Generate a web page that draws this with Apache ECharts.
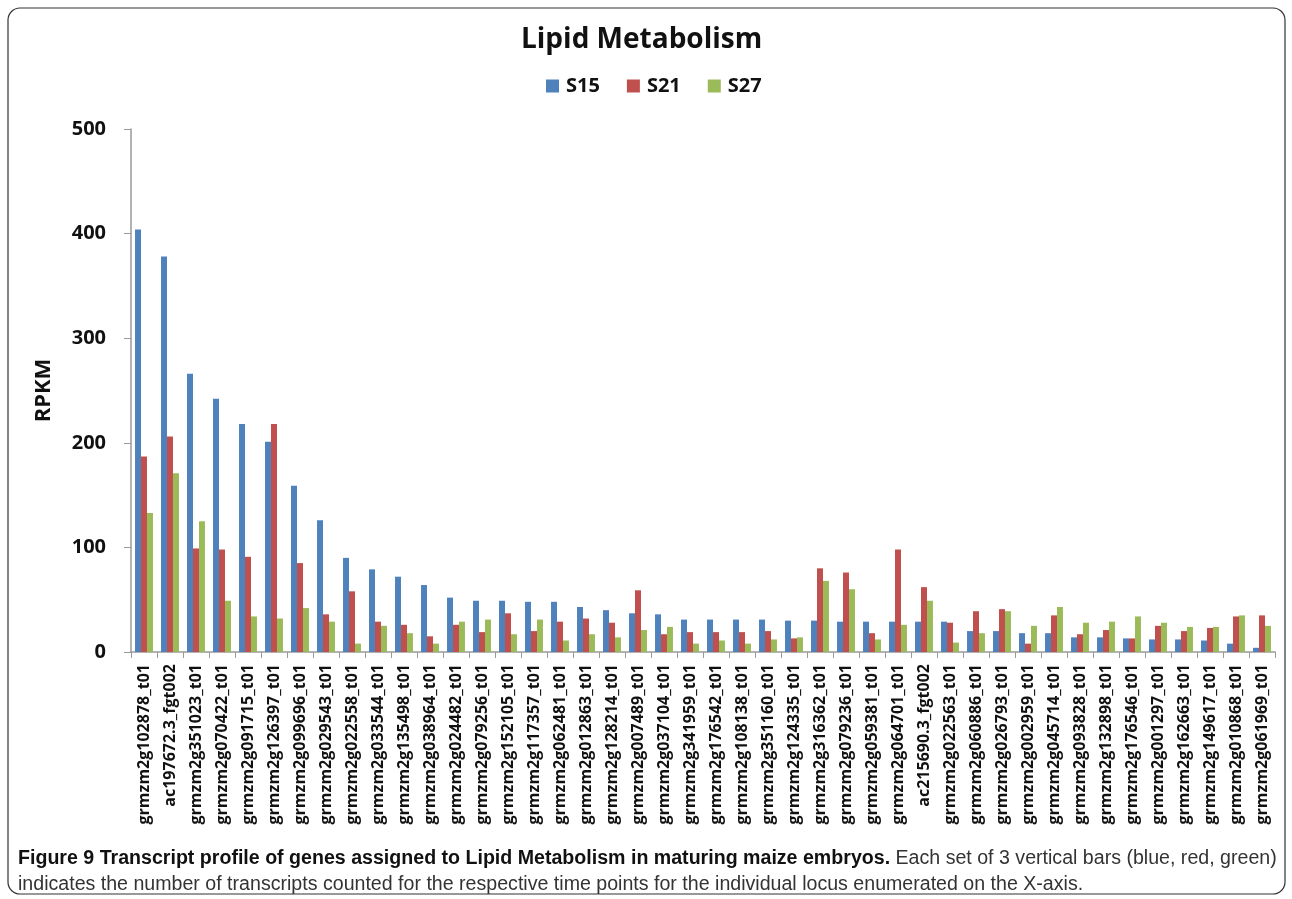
<!DOCTYPE html>
<html>
<head>
<meta charset="utf-8">
<script src="https://cdn.jsdelivr.net/npm/echarts@6/dist/echarts.min.js"></script>
<style>
  html, body { margin: 0; padding: 0; background: #fff; }
  #main { width: 1292px; height: 899px; }
</style>
</head>
<body>
<div id="main"></div>
<script>
// gene loci on the x axis
var genes = [
  'grmzm2g102878_t01', 'ac197672.3_fgt002', 'grmzm2g351023_t01', 'grmzm2g070422_t01',
  'grmzm2g091715_t01', 'grmzm2g126397_t01', 'grmzm2g099696_t01', 'grmzm2g029543_t01',
  'grmzm2g022558_t01', 'grmzm2g033544_t01', 'grmzm2g135498_t01', 'grmzm2g038964_t01',
  'grmzm2g024482_t01', 'grmzm2g079256_t01', 'grmzm2g152105_t01', 'grmzm2g117357_t01',
  'grmzm2g062481_t01', 'grmzm2g012863_t01', 'grmzm2g128214_t01', 'grmzm2g007489_t01',
  'grmzm2g037104_t01', 'grmzm2g341959_t01', 'grmzm2g176542_t01', 'grmzm2g108138_t01',
  'grmzm2g351160_t01', 'grmzm2g124335_t01', 'grmzm2g316362_t01', 'grmzm2g079236_t01',
  'grmzm2g059381_t01', 'grmzm2g064701_t01', 'ac215690.3_fgt002', 'grmzm2g022563_t01',
  'grmzm2g060886_t01', 'grmzm2g026793_t01', 'grmzm2g002959_t01', 'grmzm2g045714_t01',
  'grmzm2g093828_t01', 'grmzm2g132898_t01', 'grmzm2g176546_t01', 'grmzm2g001297_t01',
  'grmzm2g162663_t01', 'grmzm2g149617_t01', 'grmzm2g010868_t01', 'grmzm2g061969_t01'
];

// RPKM per time point
var s15 = [404, 378, 266, 242, 218, 201, 159, 126, 90, 79, 72, 64, 52, 49, 49, 48,
           48, 43, 40, 37, 36, 31, 31, 31, 31, 30, 30, 29, 29, 29, 29, 29,
           20, 20, 18, 18, 14, 14, 13, 12, 12, 11, 8, 4];
var s21 = [187, 206, 99, 98, 91, 218, 85, 36, 58, 29, 26, 15, 26, 19, 37, 20,
           29, 32, 28, 59, 17, 19, 19, 19, 20, 13, 80, 76, 18, 98, 62, 28,
           39, 41, 8, 35, 17, 21, 13, 25, 20, 23, 34, 35];
var s27 = [133, 171, 125, 49, 34, 32, 42, 29, 8, 25, 18, 8, 29, 31, 17, 31,
           11, 17, 14, 21, 24, 8, 11, 8, 12, 14, 68, 60, 12, 26, 49, 9,
           18, 39, 25, 43, 28, 29, 34, 28, 24, 24, 35, 25];

var yTicks = [0, 100, 200, 300, 400, 500];

var chart = echarts.init(document.getElementById('main'), null, {renderer: 'canvas'});

var fontMain = '"Open Sans", "Liberation Sans", sans-serif';
var fontCap = '"Liberation Sans", sans-serif';

chart.setOption({
    animation: false,
    color: ['#4F81BD', '#C0504D', '#9BBB59'],
    title: {
        text: 'Lipid Metabolism',
        left: 516,
        top: 21,
        textStyle: { fontFamily: fontMain, fontSize: 28, fontWeight: 'bold', color: '#111' }
    },
    legend: {
        top: 71,
        left: 541,
        itemWidth: 13,
        itemHeight: 13,
        itemGap: 27,
        icon: 'rect',
        textStyle: { fontFamily: fontMain, fontSize: 20, fontWeight: 'bold', color: '#111', padding: [0, 0, 0, 2] },
        data: ['S15', 'S21', 'S27']
    },
    grid: { left: 131, right: 17, top: 129, bottom: 247 },
    xAxis: {
        type: 'category',
        data: genes,
        axisLine: { lineStyle: { color: '#9a9a9a', width: 1.5 } },
        axisTick: { show: true, alignWithLabel: false, length: 6, lineStyle: { color: '#9a9a9a' } },
        axisLabel: {
            interval: 0,
            rotate: 90,
            margin: 12,
            fontFamily: fontMain,
            fontSize: 16,
            fontWeight: 'bold',
            color: '#111'
        }
    },
    yAxis: {
        type: 'value',
        min: 0,
        max: 500,
        interval: 100,
        name: 'RPKM',
        nameLocation: 'middle',
        nameGap: 76,
        nameRotate: 90,
        nameTextStyle: { fontFamily: fontMain, fontSize: 22, fontWeight: 'bold', color: '#111' },
        axisLine: { show: true, lineStyle: { color: '#9a9a9a', width: 1.5 } },
        axisTick: { show: true, length: 7, lineStyle: { color: '#9a9a9a' } },
        splitLine: { show: false },
        axisLabel: {
            fontFamily: fontMain,
            fontSize: 20,
            fontWeight: 'bold',
            color: '#111',
            margin: 25,
            formatter: function (v) { return yTicks.indexOf(v) >= 0 ? String(v) : ''; }
        }
    },
    series: [
        { name: 'S15', type: 'bar', data: s15, barGap: '0%', barCategoryGap: '31%' },
        { name: 'S21', type: 'bar', data: s21, barGap: '0%', barCategoryGap: '31%' },
        { name: 'S27', type: 'bar', data: s27, barGap: '0%', barCategoryGap: '31%' }
    ],
    graphic: [
        {
            type: 'rect',
            shape: { x: 8, y: 8, width: 1277, height: 886, r: 12 },
            style: { fill: null, stroke: '#333', lineWidth: 1.2 },
            silent: true
        },
        {
            type: 'text',
            left: 18,
            top: 849,
            style: {
                text: '{b|Figure 9 Transcript profile of genes assigned to Lipid Metabolism in maturing maize embryos.} Each set of 3 vertical bars (blue, red, green)',
                rich: {
                    b: { fontFamily: fontCap, fontSize: 19.6, fontWeight: 'bold', fill: '#111' }
                },
                fontFamily: fontCap,
                fontSize: 19.6,
                fill: '#333'
            }
        },
        {
            type: 'text',
            left: 18,
            top: 875,
            style: {
                text: 'indicates the number of transcripts counted for the respective time points for the individual locus enumerated on the X-axis.',
                fontFamily: fontCap,
                fontSize: 19.6,
                fill: '#333'
            }
        }
    ]
});
</script>
</body>
</html>
